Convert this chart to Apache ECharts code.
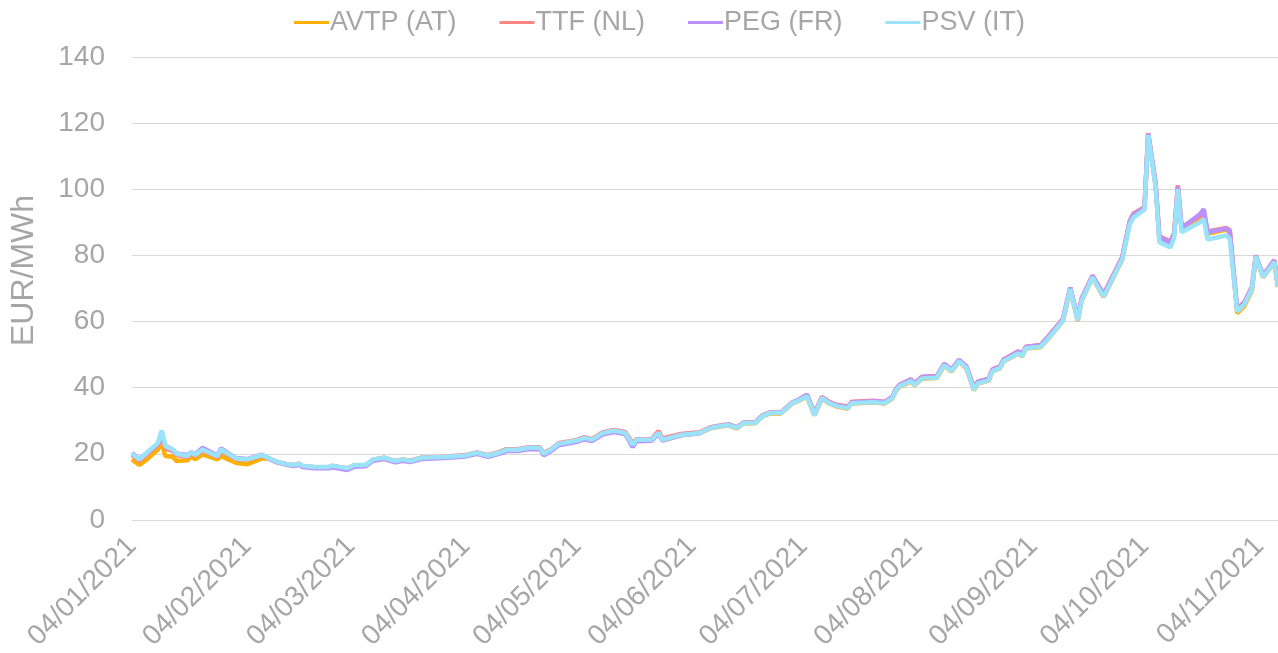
<!DOCTYPE html>
<html>
<head>
<meta charset="utf-8">
<script src="https://cdn.jsdelivr.net/npm/echarts@6/dist/echarts.min.js"></script>
<style>
  html, body { margin: 0; padding: 0; background: #fff; }
  #chart { width: 1278px; height: 653px; }
</style>
</head>
<body>
<div id="chart"></div>
<script>
// dates of the readings (2021)
var dates = [
  '01-04','01-06','01-08','01-11','01-12','01-13','01-15','01-16','01-19','01-20','01-21','01-23','01-27','01-28','02-01','02-04','02-08','02-10','02-12','02-15',
  '02-17','02-18','02-19','02-22','02-26','02-27','03-03','03-05','03-08','03-10','03-13','03-16','03-18','03-20','03-23','03-29','04-04','04-07','04-10','04-13',
  '04-15','04-18','04-21','04-24','04-25','04-27','04-29','05-04','05-06','05-08','05-11','05-14','05-17','05-19','05-20','05-24','05-26','05-27','06-01','06-06',
  '06-09','06-12','06-14','06-16','06-18','06-21','06-23','06-25','06-28','07-01','07-03','07-05','07-07','07-09','07-11','07-13','07-16','07-17','07-23','07-26',
  '07-28','07-29','07-30','08-02','08-03','08-05','08-09','08-11','08-13','08-15','08-17','08-19','08-20','08-23','08-24','08-26','08-27','08-31','09-01','09-02',
  '09-06','09-08','09-12','09-14','09-16','09-17','09-20','09-21','09-23','09-28','09-30','10-01','10-04','10-05','10-07','10-08','10-11','10-12','10-13','10-14',
  '10-19','10-20','10-21','10-26','10-27','10-29','10-31','11-02','11-03','11-05','11-08','11-09'
];

var avtp = [
  18.3,16.6,18.3,21.3,23.3,19.3,19.1,17.8,18.0,19.3,18.3,19.8,18.3,19.3,17.3,16.8,18.6,18.6,17.5,16.7,
  16.5,16.9,16.3,15.9,15.9,16.3,15.5,16.5,16.5,18.2,18.7,17.7,18.2,17.7,18.7,18.9,19.4,20.2,19.3,20.2,
  21.1,21.1,21.7,21.7,19.9,21.1,22.9,23.9,24.7,24.1,26.2,26.9,26.2,22.6,24.1,24.1,26.2,24.1,25.6,26.2,
  27.7,28.3,28.6,27.7,29.2,29.2,31.3,32.2,32.2,35.2,36.1,37.3,31.6,36.7,35.2,34.3,33.7,35.2,35.5,35.2,
  36.7,39.1,40.3,41.9,40.7,42.7,42.9,46.7,44.9,47.9,45.8,39.2,41.2,42.1,44.9,45.8,47.9,50.3,49.4,51.8,
  52.3,54.7,60.1,69.7,60.1,66.1,73.3,71.2,67.4,78.7,89.8,92.0,94.0,116.8,101.0,85.0,83.5,86.0,100.5,88.0,
  91.0,92.0,86.5,87.8,87.0,62.5,64.8,69.5,79.5,73.3,77.9,70.4
];

var ttf = [
  19.6,17.8,19.8,22.8,26.2,21.6,20.8,19.6,19.0,20.2,19.3,21.0,19.0,20.9,18.4,18.2,19.4,18.5,17.5,16.8,
  16.6,17.0,16.3,16.0,15.9,16.3,15.6,16.5,16.6,18.2,18.8,17.8,18.3,17.9,18.8,19.1,19.6,20.4,19.6,20.5,
  21.4,21.4,22.0,22.0,20.2,21.4,23.2,24.2,25.0,24.4,26.5,27.2,26.6,23.2,24.4,24.4,26.9,24.6,26.0,26.5,
  28.0,28.6,28.9,28.0,29.5,29.5,31.6,32.5,32.5,35.5,36.5,37.8,32.3,37.2,35.7,34.8,34.2,35.7,36.0,35.7,
  37.2,39.6,40.9,42.5,41.3,43.3,43.5,47.2,45.5,48.4,46.4,40.0,41.8,42.7,45.5,46.4,48.5,51.0,50.1,52.4,
  52.9,55.4,60.8,70.3,60.9,66.9,73.9,72.0,68.3,79.5,90.3,92.6,94.6,117.0,102.0,85.8,84.2,86.8,101.2,88.6,
  91.8,93.0,87.2,88.3,87.6,63.8,66.0,70.6,80.0,74.0,78.6,71.0
];

var peg = [
  20.2,18.4,20.2,23.0,26.5,22.4,21.2,20.1,19.6,20.5,19.8,21.8,19.5,21.6,18.7,18.4,19.7,18.5,17.4,16.6,
  16.3,16.7,16.0,15.6,15.6,15.9,15.1,16.1,16.2,17.9,18.4,17.4,17.9,17.5,18.4,18.7,19.2,20.0,19.1,20.0,
  20.8,20.8,21.4,21.4,19.5,20.8,22.6,23.6,24.4,23.8,25.9,26.6,26.0,22.0,23.8,23.9,26.0,24.0,25.6,26.2,
  27.9,28.5,28.8,27.9,29.4,29.4,31.5,32.4,32.4,35.4,36.5,37.9,32.0,37.0,35.5,34.6,34.0,35.5,35.9,35.6,
  37.1,39.5,40.8,42.4,41.2,43.2,43.4,47.2,45.4,48.4,46.3,39.8,41.7,42.6,45.4,46.3,48.4,50.9,50.0,52.3,
  52.8,55.2,60.6,70.2,60.7,66.7,73.8,71.8,68.0,79.3,90.0,92.4,94.3,116.8,101.5,85.5,83.8,86.5,100.8,88.3,
  92.5,94.0,87.0,88.1,87.3,63.5,65.8,70.3,79.9,73.8,78.4,70.8
];

var psv = [
  20.0,18.3,20.3,23.3,27.0,22.3,21.3,20.0,19.3,20.6,19.6,21.3,19.3,21.3,18.6,18.3,19.6,18.6,17.6,16.8,
  16.6,17.0,16.4,16.0,16.0,16.4,15.6,16.6,16.6,18.3,18.8,17.8,18.3,17.8,18.8,19.0,19.5,20.3,19.4,20.3,
  21.2,21.2,21.8,21.8,20.0,21.2,23.0,24.0,24.8,24.2,26.3,27.0,26.3,22.7,24.2,24.2,26.3,24.2,25.7,26.3,
  27.8,28.4,28.7,27.8,29.3,29.3,31.4,32.3,32.3,35.3,36.2,37.4,31.7,36.8,35.3,34.4,33.8,35.3,35.6,35.3,
  36.8,39.2,40.4,42.0,40.8,42.8,43.0,46.8,45.0,48.0,45.9,39.3,41.3,42.2,45.0,45.9,48.0,50.4,49.5,51.9,
  52.4,54.8,60.2,69.8,60.2,66.2,73.4,71.3,67.5,78.8,89.3,91.4,93.8,116.4,100.8,84.0,82.4,85.4,100.0,87.0,
  90.0,91.0,84.8,86.0,85.0,63.0,65.3,69.9,79.7,73.4,78.0,70.5
];

var seriesNames = ['AVTP (AT)', 'TTF (NL)', 'PEG (FR)', 'PSV (IT)'];
var xTicks = ['2021-01-04','2021-02-04','2021-03-04','2021-04-04','2021-05-04','2021-06-04',
              '2021-07-04','2021-08-04','2021-09-04','2021-10-04','2021-11-04'];
var yTicks = [0, 20, 40, 60, 80, 100, 120, 140];

var colors = ['#FFB000', '#FF8585', '#B891FF', '#9AE3FA'];
var txt = '#A6A6A6';
var font = "'Liberation Sans', Arial, sans-serif";

// day number since 1970 (UTC), keeps the x axis a plain value axis
function toDay(s) {
  var p = s.split('-');
  return Date.UTC(+p[0], +p[1] - 1, +p[2]) / 86400000;
}
function pad(n) { return n < 10 ? '0' + n : '' + n; }

function pairs(vals) {
  var out = [];
  for (var i = 0; i < dates.length; i++) {
    out.push([toDay('2021-' + dates[i]), vals[i]]);
  }
  return out;
}

var chart = echarts.init(document.getElementById('chart'), null, { renderer: 'canvas' });

var allVals = [avtp, ttf, peg, psv];
var series = [];
for (var k = 0; k < seriesNames.length; k++) {
  series.push({
    name: seriesNames[k],
    type: 'line',
    showSymbol: false,
    symbol: 'none',
    lineStyle: { width: 4.5, color: colors[k] },
    itemStyle: { color: colors[k] },
    data: pairs(allVals[k])
  });
}

var option = {
  animation: false,
  color: colors,
  textStyle: { fontFamily: font },
  legend: {
    top: 4,
    left: 289,
    icon: 'rect',
    itemWidth: 35,
    itemHeight: 3,
    itemGap: 43,
    textStyle: { color: txt, fontSize: 27, fontFamily: font, padding: [0, 0, 0, -4] },
    data: seriesNames
  },
  grid: { left: 130, right: 0, top: 57, bottom: 130 },
  xAxis: {
    type: 'value',
    min: toDay('2021-01-04'),
    max: toDay('2021-11-09'),
    axisLine: { show: false },
    axisTick: { show: false },
    splitLine: { show: false },
    axisLabel: {
      rotate: 45,
      margin: 22,
      color: txt,
      fontSize: 28,
      fontFamily: font,
      showMinLabel: true,
      showMaxLabel: true,
      hideOverlap: false,
      customValues: xTicks.map(toDay),
      formatter: function (v) {
        var d = new Date(v * 86400000);
        return pad(d.getUTCDate()) + '/' + pad(d.getUTCMonth() + 1) + '/' + d.getUTCFullYear();
      }
    }
  },
  yAxis: {
    type: 'value',
    min: yTicks[0],
    max: yTicks[yTicks.length - 1],
    interval: 20,
    name: 'EUR/MWh',
    nameLocation: 'middle',
    nameGap: 92,
    nameRotate: 90,
    nameTextStyle: { color: txt, fontSize: 32, fontFamily: font, padding: [0, 0, 0, 36] },
    axisLine: { show: false },
    axisTick: { show: false },
    axisLabel: { color: txt, fontSize: 28, fontFamily: font, margin: 27 },
    splitLine: { lineStyle: { color: '#D9D9D9', width: 1 } }
  },
  series: series
};

chart.setOption(option);
</script>
</body>
</html>
